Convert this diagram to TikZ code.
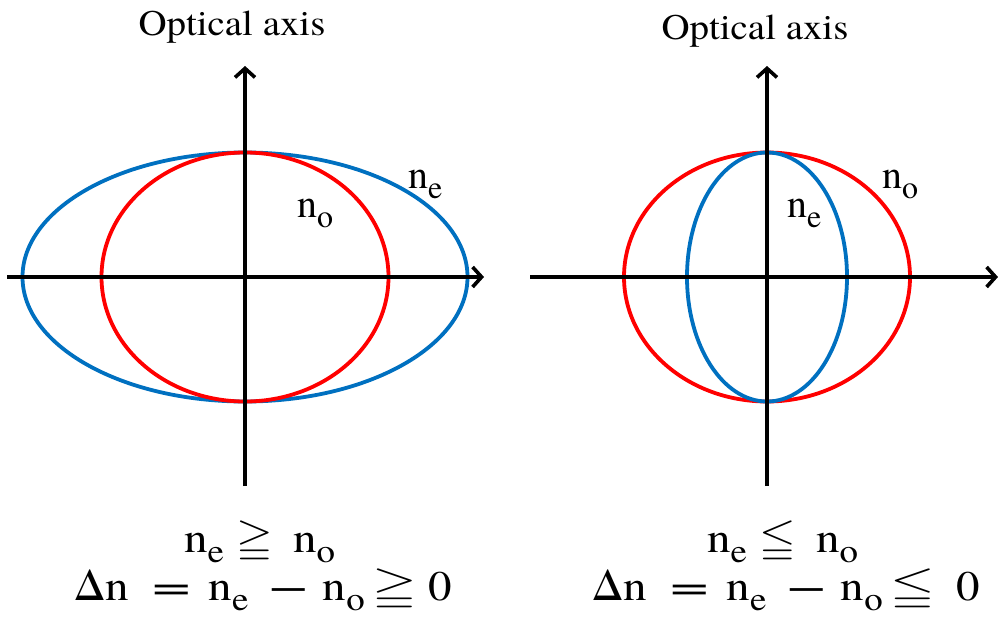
\documentclass[tikz,border=0pt]{standalone}
\usepackage{amssymb}
\usepackage{fontspec}
\IfFontExistsTF{texgyretermes-regular.otf}
  {\setmainfont{texgyretermes-regular.otf}}
  {\setmainfont{Liberation Serif}}
\usetikzlibrary{arrows.meta}
\definecolor{eblue}{RGB}{0,112,192}
\definecolor{ored}{RGB}{255,0,0}
\newcommand\lsub[1]{\raisebox{-10pt}{\fontsize{32}{34}\selectfont #1}}
\newcommand\esub[1]{\raisebox{-10pt}{\fontsize{33}{35}\selectfont #1}}
\newcommand\wide[2]{\scalebox{#1}[1]{#2}}
\newcommand\weq{\scalebox{1.45}[1]{=}}
\newcommand\wminus{\scalebox{1.45}[1]{−}}
\tikzset{
  axis/.style={line width=3.6pt, black, -{Straight Barb[length=9pt,width=20pt,line width=3.6pt]}},
  curve/.style={line width=3.8pt},
  title/.style={font=\fontsize{36}{40}\selectfont, anchor=base, inner sep=0pt},
  lab/.style={font=\fontsize{40}{44}\selectfont, anchor=base west, inner sep=0pt},
  eqn/.style={font=\fontsize{42}{46}\selectfont, anchor=base west, inner sep=0pt},
}
\begin{document}
\begin{tikzpicture}[x=1pt,y=-1pt]
\useasboundingbox (0,0) rectangle (998,621);
% ---------- left diagram ----------
\coordinate (Lc) at (245,277);
\coordinate (Lleft) at (7,277);
\coordinate (Lright) at (484,277);
\coordinate (Lbot) at (245,486);
\coordinate (Ltop) at (245,66);
\draw[curve, eblue] (Lc) ellipse [x radius=222.5, y radius=124.5];
\draw[curve, ored] (Lc) ellipse [x radius=143.5, y radius=124.5];
\draw[axis] (Lleft) -- (Lright);
\draw[axis] (Lbot) -- (Ltop);
\node[title] (Ltitle) at (232,35) {\wide{1.08}{Optical axis}};
\node[lab] (Lne) at (408,188) {n\lsub{e}};
\node[lab] (Lno) at (297,217) {n\lsub{o}};
\node[eqn] (Leq1) at (184,552) {\wide{1.12}{n\esub{e}\hspace{11pt}$\geqq$\hspace{18pt}n\esub{o}}};
\node[eqn] (Leq2) at (74,600) {\wide{1.12}{Δn\hspace{21pt}\weq\hspace{16pt}n\esub{e}\hspace{19pt}\wminus\hspace{13pt}n\esub{o}\hspace{7pt}\scalebox{1.22}[1]{$\geqq$}\hspace{10pt}0}};
% ---------- right diagram ----------
\coordinate (Rc) at (767,277);
\coordinate (Rleft) at (530,277);
\coordinate (Rright) at (998,277);
\coordinate (Rbot) at (767,486);
\coordinate (Rtop) at (767,66);
\draw[curve, ored] (Rc) ellipse [x radius=143, y radius=124.5];
\draw[curve, eblue] (Rc) ellipse [x radius=80, y radius=124.5];
\draw[axis] (Rleft) -- (Rright);
\draw[axis] (Rbot) -- (Rtop);
\node[title] (Rtitle) at (755,39) {\wide{1.08}{Optical axis}};
\node[lab] (Rno) at (882,188) {n\lsub{o}};
\node[lab] (Rne) at (787,217) {n\lsub{e}};
\node[eqn] (Req1) at (707,552) {\wide{1.12}{n\esub{e}\hspace{11pt}$\leqq$\hspace{18pt}n\esub{o}}};
\node[eqn] (Req2) at (592,600) {\wide{1.12}{Δn\hspace{21pt}\weq\hspace{16pt}n\esub{e}\hspace{19pt}\wminus\hspace{13pt}n\esub{o}\hspace{7pt}\scalebox{1.22}[1]{$\leqq$}\hspace{19pt}0}};
\end{tikzpicture}
\end{document}
